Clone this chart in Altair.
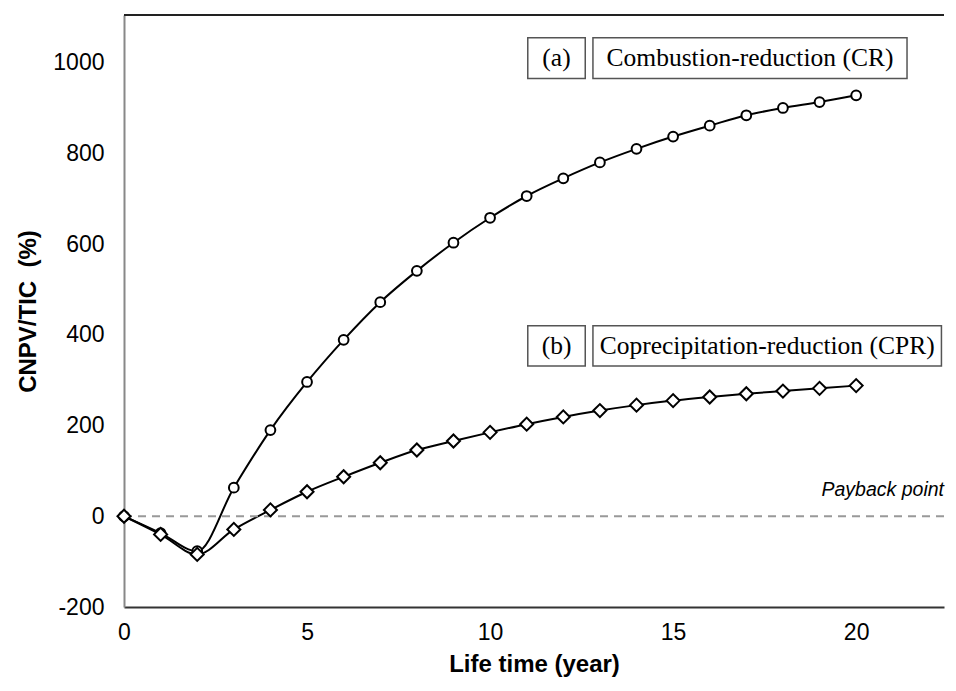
import altair as alt
import pandas as pd

years = list(range(0, 21))
cr_values = [0, -37, -77, 63, 190, 296, 389, 472, 541, 603, 658, 706, 745, 780, 810, 837, 861, 884, 900, 913, 928]
cpr_values = [0, -40, -84, -29, 14, 54, 87, 118, 146, 166, 185, 203, 219, 233, 245, 255, 263, 270, 276, 282, 288]

x_tick_values = [0, 5, 10, 15, 20]
y_tick_values = [-200, 0, 200, 400, 600, 800, 1000]

df = pd.DataFrame({
    "year": years * 2,
    "value": cr_values + cpr_values,
    "series": ["CR"] * len(years) + ["CPR"] * len(years),
})

W, H = 820, 592
XMAX, YMIN, YMAX = 22.4, -200, 1105

xscale = alt.Scale(domain=[0, XMAX], nice=False, zero=False)
yscale = alt.Scale(domain=[YMIN, YMAX], nice=False, zero=False)

FONT = "Liberation Sans"

x_axis = alt.Axis(
    values=x_tick_values, title="Life time (year)", labelFont=FONT, labelFontSize=23,
    labelColor="black", titleFont=FONT, titleFontSize=24, titleFontWeight="bold",
    titleColor="black", titlePadding=8, labelPadding=14, ticks=False, grid=False,
    domainColor="#333333", domainWidth=2, labelFlush=False, orient="bottom",
    labelExpr="'' + datum.value")
y_axis = alt.Axis(
    values=y_tick_values, title="CNPV/TIC \u00a0(%)", labelFont=FONT, labelFontSize=23,
    labelColor="black", titleFont=FONT, titleFontSize=24, titleFontWeight="bold",
    titleColor="black", titlePadding=12, labelPadding=20, ticks=False, grid=False,
    domainColor="#888888", domainWidth=2, labelFlush=False, orient="left",
    labelExpr="'' + datum.value")


def X(field="year"):
    return alt.X(f"{field}:Q", scale=xscale, axis=x_axis)


def Y(field="value"):
    return alt.Y(f"{field}:Q", scale=yscale, axis=y_axis)


base = alt.Chart(df)

lines = base.mark_line(color="black", strokeWidth=2, interpolate="monotone").encode(
    x=X(), y=Y(), detail="series:N")

payback = alt.Chart(pd.DataFrame({"value": [0]})).mark_rule(
    color="#999999", strokeWidth=2, strokeDash=[8, 6]).encode(y=Y())

cr_pts = base.transform_filter(alt.datum.series == "CR").mark_point(
    shape="circle", size=95, filled=True, fill="white", stroke="black", strokeWidth=2,
    opacity=1).encode(x=X(), y=Y())
cpr_pts = base.transform_filter(alt.datum.series == "CPR").mark_point(
    shape="diamond", size=170, filled=True, fill="white", stroke="black", strokeWidth=2,
    opacity=1).encode(x=X(), y=Y())

top_border = alt.Chart(pd.DataFrame({"a": [0]})).mark_rule(
    color="#222222", strokeWidth=2).encode(
    x=alt.value(0), x2=alt.value(W), y=alt.value(0))

# annotation boxes (positions in data units)
box_x1 = [11.03, 12.81, 11.03, 12.81]
box_x2 = [12.60, 21.39, 12.60, 22.33]
box_y1 = [965, 965, 331, 331]
box_y2 = [1055, 1055, 420, 420]
boxes = alt.Chart(pd.DataFrame({"year": box_x1, "x2": box_x2, "value": box_y1, "y2": box_y2})).mark_rect(
    fill="white", stroke="#555555", strokeWidth=1.5).encode(
    x=X(), x2="x2:Q", y=Y(), y2="y2:Q")

ann_text = ["(a)", "Combustion-reduction (CR)", "(b)", "Coprecipitation-reduction (CPR)"]
ann_x = [11.815, 17.10, 11.815, 17.57]
ann_y = [1010, 1010, 375, 375]
ann = alt.Chart(pd.DataFrame({"t": ann_text, "year": ann_x, "value": ann_y})).mark_text(
    font="Liberation Serif", fontSize=25.5, color="black", align="center", baseline="middle").encode(
    x=X(), y=Y(), text="t:N")

pb = alt.Chart(pd.DataFrame({"t": ["Payback point"], "year": [22.4], "value": [44]})).mark_text(
    font=FONT, fontSize=19.5, fontStyle="italic", color="black", align="right",
    baseline="alphabetic").encode(x=X(), y=Y(), text="t:N")

chart = alt.layer(lines, payback, cr_pts, cpr_pts, top_border, boxes, ann, pb).properties(
    width=W, height=H,
    autosize=alt.AutoSizeParams(type="none"),
    padding={"left": 116, "top": 7, "right": 4, "bottom": 76},
    background="white",
).configure_view(stroke="white", strokeOpacity=0, strokeWidth=0)

chart.save("out.html", embed_options={"renderer": "svg", "actions": False})
